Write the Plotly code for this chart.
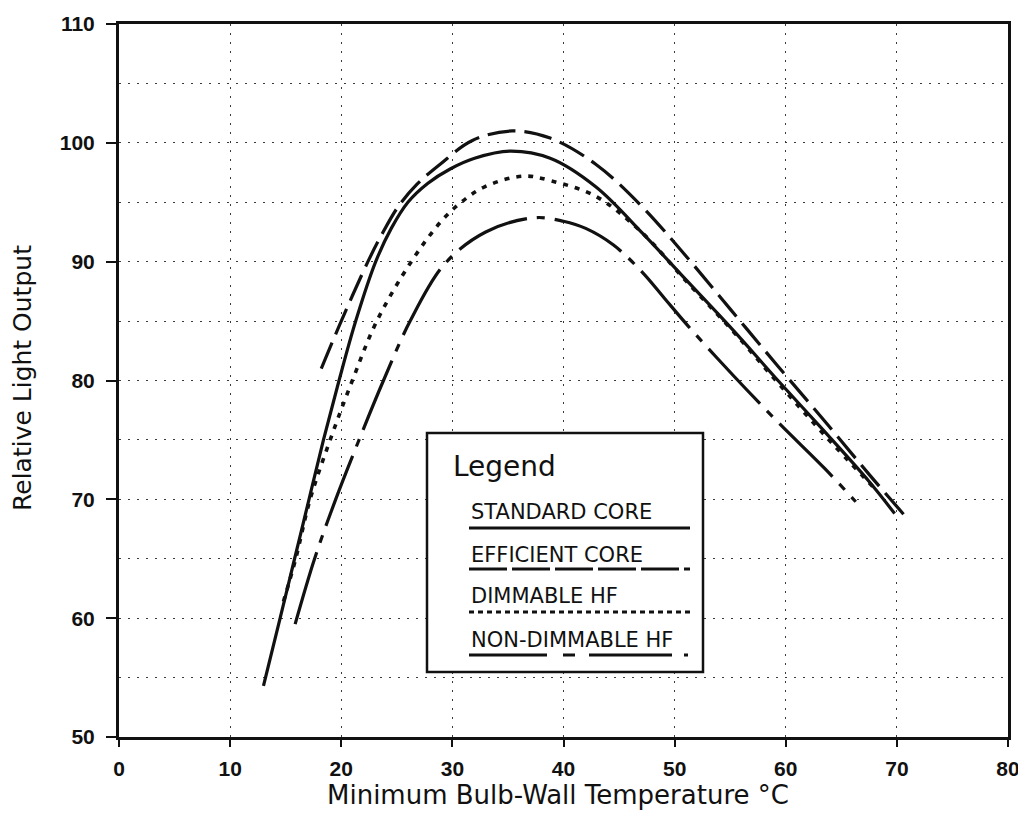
import plotly.graph_objects as go

# ---------------- data ----------------
std_x = [13.0, 14.5, 15.8, 17.1, 18.4, 19.8, 21.3, 23.1, 24.5, 26.0, 27.8, 29.8, 32.0,
         35.2, 38.8, 42.9, 47.1, 51.1, 55.2, 59.3, 63.4, 67.5, 69.8]
std_y = [54.3, 60.0, 65.0, 70.0, 75.0, 80.0, 85.0, 90.0, 92.8, 95.0, 96.6, 97.8, 98.7,
         99.3, 98.7, 96.3, 92.4, 88.4, 84.3, 80.0, 75.8, 71.5, 68.8]

eff_x = [18.2, 20.0, 22.4, 23.6, 25.1, 26.8, 28.9, 31.8, 35.4, 38.8, 42.9, 47.0, 50.9,
         55.1, 59.3, 63.4, 67.5, 70.6]
eff_y = [81.0, 85.0, 90.0, 92.2, 94.6, 96.5, 98.2, 100.2, 101.0, 100.4, 98.2, 94.7, 90.6,
         85.9, 81.2, 76.7, 72.1, 68.75]

dim_x = [14.8, 15.9, 17.2, 19.0, 21.0, 23.2, 26.3, 29.0, 30.8, 32.9, 36.4, 38.9,
         42.9, 47.0, 51.1, 55.2, 59.3, 63.4, 68.0]
dim_y = [61.4, 65.0, 70.0, 75.0, 80.0, 85.0, 90.0, 93.4, 95.0, 96.3, 97.2, 96.8,
         95.5, 92.5, 88.3, 84.2, 79.8, 75.5, 70.9]

nondim_x = [15.85, 17.6, 19.5, 21.6, 23.8, 26.2, 29.3, 33.0, 37.4, 40.0, 42.0, 44.5,
            47.1, 49.1, 51.2, 55.3, 59.4, 63.5, 66.3]
nondim_y = [59.5, 65.0, 70.0, 75.0, 80.0, 85.0, 89.8, 92.5, 93.7, 93.4, 92.8, 91.4,
            89.1, 86.9, 84.6, 80.4, 76.4, 72.6, 69.8]

series_names = ["STANDARD CORE", "EFFICIENT CORE", "DIMMABLE HF", "NON-DIMMABLE HF"]
x_ticks = [0, 10, 20, 30, 40, 50, 60, 70, 80]
y_ticks = [50, 60, 70, 80, 90, 100, 110]

# ---------------- layout geometry ----------------
OFF = 8                            # default page body margin
W, H = 1026 - OFF, 818 - OFF       # figure fills the window from the body offset
L, R, T, B = 119, 1008, 24, 737    # plot-area box in page pixels

def px(x):
    return (x - L) / (R - L)

def py(y):
    return (B - y) / (B - T)

BLACK = "#111111"
FONT = "DejaVu Sans"

styles = [
    dict(dash="solid", width=3.2),
    dict(dash="28px,9px", width=3.2),
    dict(dash="5px,7px", width=3.6),
    dict(dash="75px,10px,8px,10px", width=3.2),
]

fig = go.Figure()
for (xs, ys), name, st in zip([(std_x, std_y), (eff_x, eff_y), (dim_x, dim_y), (nondim_x, nondim_y)],
                              series_names, styles):
    fig.add_trace(go.Scatter(
        x=xs, y=ys, mode="lines", name=name,
        line=dict(color=BLACK, width=st["width"], dash=st["dash"], shape="spline", smoothing=1.0),
        showlegend=False,
    ))

grid = dict(gridcolor="#3a3a3a", gridwidth=1.2, griddash="2px,7px")
tickfont = dict(family="Liberation Sans", size=21, color=BLACK, weight="bold")

fig.update_xaxes(
    range=[0, 80], tickvals=x_ticks, ticktext=[str(v) for v in x_ticks],
    showline=True, linecolor=BLACK, linewidth=3, mirror=True,
    ticks="outside", ticklen=7, tickwidth=2, tickcolor=BLACK,
    ticklabelstandoff=4, tickfont=tickfont, automargin=False,
    showgrid=True, zeroline=False, **grid,
)
fig.update_yaxes(
    range=[50, 110], tickvals=y_ticks, ticktext=[str(v) for v in y_ticks],
    showline=True, linecolor=BLACK, linewidth=3, mirror=True,
    ticks="outside", ticklen=10, tickwidth=2, tickcolor=BLACK,
    ticklabelstandoff=7, tickfont=tickfont, automargin=False,
    showgrid=True, zeroline=False, **grid,
    minor=dict(dtick=5, showgrid=True, ticks="", **grid),
)

annotations = [
    dict(text="Minimum Bulb-Wall Temperature °C", x=px(558), y=py(795),
         font=dict(family=FONT, size=26, color=BLACK)),
    dict(text="Relative Light Output", x=px(22), y=py(378), textangle=-90,
         font=dict(family=FONT, size=25, color=BLACK)),
    dict(text="Legend", x=px(451), y=py(466), xanchor="left",
         font=dict(family=FONT, size=28, color=BLACK)),
]
label_rows = [512, 555, 596, 640]
line_rows = [528, 569, 612, 655]
for name, yrow in zip(series_names, label_rows):
    annotations.append(dict(text=name, x=px(469), y=py(yrow), xanchor="left",
                            font=dict(family=FONT, size=21, color=BLACK)))
for a in annotations:
    a.update(xref="paper", yref="paper", showarrow=False, yanchor="middle")
    a.setdefault("xanchor", "center")

legend_dashes = ["solid", "38px,5px", "5px,4px", "78px,16px,12px,14px,83px,12px,4px"]
shapes = [dict(type="rect", xref="paper", yref="paper",
               x0=px(427), x1=px(703), y0=py(672), y1=py(433),
               line=dict(color=BLACK, width=2.5), fillcolor="white", layer="above")]
for yrow, dsh in zip(line_rows, legend_dashes):
    shapes.append(dict(type="line", xref="paper", yref="paper",
                       x0=px(469), x1=px(690), y0=py(yrow), y1=py(yrow),
                       line=dict(color=BLACK, width=3.2, dash=dsh), layer="above"))

fig.update_layout(
    width=W, height=H,
    margin=dict(l=L - OFF, r=W - (R - OFF), t=T - OFF, b=H - (B - OFF), pad=0,
                autoexpand=False),
    paper_bgcolor="white", plot_bgcolor="white",
    annotations=annotations, shapes=shapes,
    showlegend=False,
)

fig.write_html("out.html")
